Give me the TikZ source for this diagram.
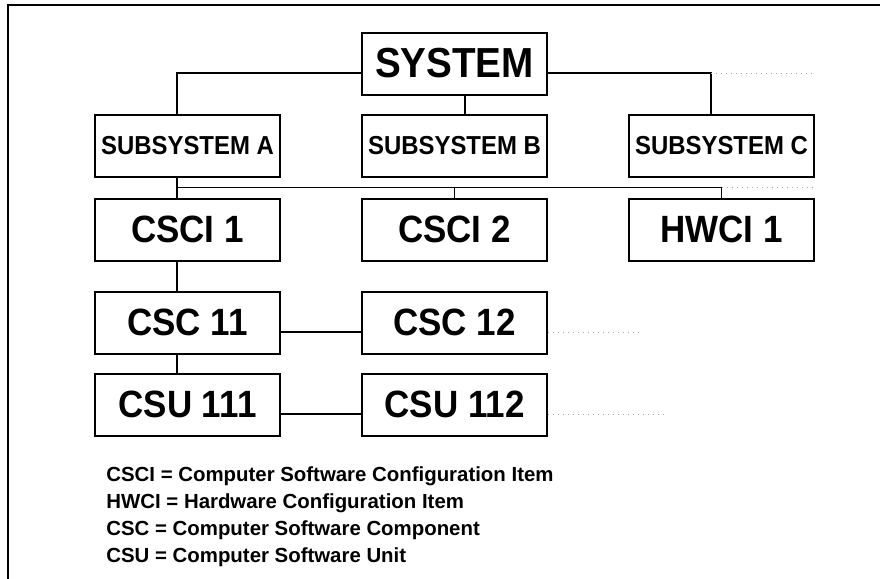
\documentclass[tikz,border=0pt]{standalone}
\usepackage{fontspec}
\setmainfont{Liberation Sans}
\newfontfamily\boxfont{Liberation Sans}[FakeStretch=0.92]
\usetikzlibrary{positioning}

\begin{document}
\begin{tikzpicture}[
        x=0.5pt, y=-0.5pt,
        node distance=10pt and 40pt,
        box/.style={draw, line width=1pt, align=center, minimum width=92.5pt, minimum height=31pt, inner sep=0pt,
            font=\boxfont\bfseries\fontsize{19}{19}\selectfont},
        topbox/.style={box, font=\boxfont\bfseries\fontsize{21}{21}\selectfont},
        subbox/.style={box, font=\boxfont\bfseries\fontsize{13}{13}\selectfont},
        link/.style={line width=0.6pt},
        faint/.style={line width=0.5pt, black!35, dotted},
        legend/.style={anchor=base west, inner sep=0pt, font=\bfseries\fontsize{10.2}{12}\selectfont}
        ]
        \useasboundingbox (0,0) rectangle (880,579);
        \draw[line width=1pt] (880,5) -- (8,5) -- (8,579);

        \node[subbox] (subA) at (187.5,145.5) {SUBSYSTEM A};
        \node[subbox, right=of subA] (subB) {SUBSYSTEM B};
        \node[subbox, right=of subB] (subC) {SUBSYSTEM C};
        \node[topbox, above=9pt of subB] (sys) {SYSTEM};
        \node[box, below=of subA] (csci1) {CSCI 1};
        \node[box, below=of subB] (csci2) {CSCI 2};
        \node[box, below=of subC] (hwci1) {HWCI 1};
        \node[box, below=14.5pt of csci1] (csc11) {CSC 11};
        \node[box, right=of csc11] (csc12) {CSC 12};
        \node[box, below=9pt of csc11] (csu111) {CSU 111};
        \node[box, right=of csu111] (csu112) {CSU 112};

        % taps that sit off the box centres
        \coordinate (tapS) at ([yshift=-4.75pt]sys.east);
        \coordinate (tapC) at ([xshift=-5.25pt]subC.north);
        \coordinate (bus) at ([xshift=-5.25pt,yshift=-5pt]subA.south);
        \coordinate (cscend) at ([xshift=46pt,yshift=-4.75pt]csc12.east);
        \coordinate (csuend) at ([xshift=60pt,yshift=-4.75pt]csu112.east);

        \draw[link] ([yshift=-4.75pt]sys.west) -| ([xshift=-5.25pt]subA.north);
        \draw[link] (tapS) -| (tapC);
        \draw[link] ([xshift=5.25pt]sys.south) -- ([xshift=5.25pt]subB.north);
        \draw[link] ([xshift=-5.25pt]subA.south) -- ([xshift=-5.25pt]csci1.north);
        \draw[link] (bus) -| (csci2.north);
        \draw[link] (bus) -| (hwci1.north);
        \draw[link] ([xshift=-5.25pt]csci1.south) -- ([xshift=-5.25pt]csc11.north);
        \draw[link] ([xshift=-5.25pt]csc11.south) -- ([xshift=-5.25pt]csu111.north);
        \draw[link] ([yshift=-4.75pt]csc11.east) -- ([yshift=-4.75pt]csc12.west);
        \draw[link] ([yshift=-4.75pt]csu111.east) -- ([yshift=-4.75pt]csu112.west);

        \draw[faint] (tapS -| tapC) -- (tapS -| subC.east);
        \draw[faint] (bus -| hwci1.north) -- (bus -| hwci1.east);
        \draw[faint] ([yshift=-4.75pt]csc12.east) -- (cscend);
        \draw[faint] ([yshift=-4.75pt]csu112.east) -- (csuend);

        \foreach \term [count=\i] in {CSCI = Computer Software Configuration Item,
                HWCI = Hardware Configuration Item,
                CSC = Computer Software Component,
                CSU = Computer Software Unit}
            \node[legend] (key\i) at (106,{481+27.3*(\i-1)}) {\term};
    \end{tikzpicture}
\end{document}
